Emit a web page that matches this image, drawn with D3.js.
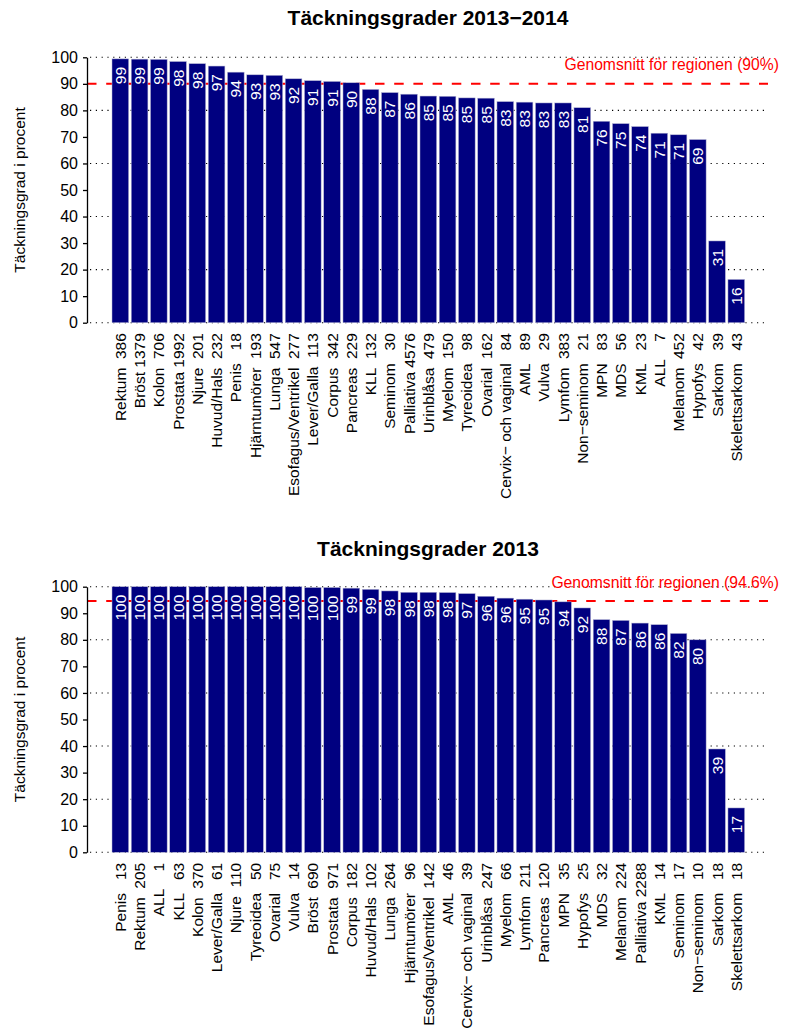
<!DOCTYPE html>
<html>
<head>
<meta charset="utf-8">
<script src="https://cdn.jsdelivr.net/npm/d3@7"></script>
<style>
  html, body { margin: 0; padding: 0; background: #fff; }
  svg { display: block; font-family: "Liberation Sans", Arial, Helvetica, sans-serif; }
</style>
</head>
<body>
<svg id="chart" width="787" height="1032"></svg>
<script>
// ---------- Shared texts ----------
const titles = ["Täckningsgrader 2013−2014", "Täckningsgrader 2013"];
const yAxisLabel = "Täckningsgrad i procent";
const averages = [90, 94.6];
const averageLabels = ["Genomsnitt för regionen (90%)", "Genomsnitt för regionen (94.6%)"];
const yTicks = [0, 10, 20, 30, 40, 50, 60, 70, 80, 90, 100];
const gridValues = [0, 20, 40, 60, 80, 100];

// ---------- Data: chart 1 (2013–2014) ----------
const categories1 = ["Rektum", "Bröst", "Kolon", "Prostata", "Njure", "Huvud/Hals", "Penis",
  "Hjärntumörer", "Lunga", "Esofagus/Ventrikel", "Lever/Galla", "Corpus", "Pancreas", "KLL",
  "Seminom", "Palliativa", "Urinblåsa", "Myelom", "Tyreoidea", "Ovarial", "Cervix− och vaginal",
  "AML", "Vulva", "Lymfom", "Non−seminom", "MPN", "MDS", "KML", "ALL", "Melanom", "Hypofys",
  "Sarkom", "Skelettsarkom"];
const counts1 = [386, 1379, 706, 1992, 201, 232, 18, 193, 547, 277, 113, 342, 229, 132, 30, 4576,
  479, 150, 98, 162, 84, 89, 29, 383, 21, 83, 56, 23, 7, 452, 42, 39, 43];
const values1 = [99.4, 99.3, 99.2, 98.4, 97.6, 96.7, 94.4, 93.4, 93.2, 91.9, 91.2, 90.9, 90.4, 87.9,
  86.7, 86.1, 85.4, 85.3, 84.7, 84.6, 83.3, 83.1, 82.8, 82.8, 81.0, 75.9, 75.0, 73.9, 71.4, 70.8,
  69.0, 30.8, 16.3];

// ---------- Data: chart 2 (2013) ----------
const categories2 = ["Penis", "Rektum", "ALL", "KLL", "Kolon", "Lever/Galla", "Njure", "Tyreoidea",
  "Ovarial", "Vulva", "Bröst", "Prostata", "Corpus", "Huvud/Hals", "Lunga", "Hjärntumörer",
  "Esofagus/Ventrikel", "AML", "Cervix− och vaginal", "Urinblåsa", "Myelom", "Lymfom", "Pancreas",
  "MPN", "Hypofys", "MDS", "Melanom", "Palliativa", "KML", "Seminom", "Non−seminom", "Sarkom",
  "Skelettsarkom"];
const counts2 = [13, 205, 1, 63, 370, 61, 110, 50, 75, 14, 690, 971, 182, 102, 264, 96, 142, 46, 39,
  247, 66, 211, 120, 35, 25, 32, 224, 2288, 14, 17, 10, 18, 18];
const values2 = [100, 100, 100, 100, 100, 100, 100, 100, 100, 100, 99.7, 99.7, 99.45, 99.0, 98.4,
  97.9, 97.9, 97.8, 97.4, 96.4, 95.7, 95.3, 95.0, 94.3, 92.0, 87.6, 87.3, 86.3, 85.7, 82.4, 80.0,
  38.9, 16.7];

const svg = d3.select("#chart");
const NBSP = "\u00A0";

function drawChart(opt) {
  const g = svg.append("g");
  const data = opt.categories.map((c, i) => ({ name: c, n: opt.counts[i], v: opt.values[i] }));

  const y = d3.scaleLinear().domain([0, 100]).range([opt.y0, opt.y100]);
  const x = d3.scaleBand().domain(d3.range(data.length))
    .range([112.3, 744.3]).paddingInner(0.2 / 1.2).paddingOuter(0);

  const axisX = 87, plotRight = 768;

  // dotted grid
  g.selectAll("line.grid").data(gridValues).enter().append("line")
    .attr("class", "grid")
    .attr("x1", axisX + 3).attr("x2", 765)
    .attr("y1", d => y(d)).attr("y2", d => y(d))
    .attr("stroke", "#000").attr("stroke-width", 1.1)
    .attr("stroke-dasharray", "1.2,4.6");

  // average line (behind bars)
  g.append("line")
    .attr("x1", axisX).attr("x2", plotRight)
    .attr("y1", y(opt.avg)).attr("y2", y(opt.avg))
    .attr("stroke", "#ff0000").attr("stroke-width", 2)
    .attr("stroke-dasharray", "9.5,9.7");

  // bars
  g.selectAll("rect.bar").data(data).enter().append("rect")
    .attr("class", "bar")
    .attr("x", (d, i) => x(i) - 0.3)
    .attr("width", x.bandwidth() + 0.6)
    .attr("y", d => y(d.v))
    .attr("height", d => y(0) - y(d.v))
    .attr("fill", "#000080")
    .attr("stroke", "#b4b4d4").attr("stroke-width", 0.5);

  g.append("text")
    .attr("x", 779).attr("y", y(opt.avg) - 13.5)
    .attr("text-anchor", "end")
    .attr("fill", "#ff0000")
    .attr("font-size", "15.7px")
    .text(opt.avgLabel);

  // value labels inside bars
  g.selectAll("text.val").data(data).enter().append("text")
    .attr("class", "val")
    .attr("transform", (d, i) => `translate(${x(i) + x.bandwidth() / 2},${y(d.v) + 8}) rotate(-90)`)
    .attr("text-anchor", "end")
    .attr("dy", "0.36em")
    .attr("fill", "#ffffff")
    .attr("font-size", "15.5px")
    .text(d => Math.round(d.v));

  // category labels
  g.selectAll("text.cat").data(data).enter().append("text")
    .attr("class", "cat")
    .attr("transform", (d, i) => `translate(${x(i) + x.bandwidth() / 2},${y(0) + 10.5}) rotate(-90)`)
    .attr("text-anchor", "end")
    .attr("dy", "0.36em")
    .attr("fill", "#000")
    .attr("font-size", "15.5px")
    .text(d => d.name + NBSP + String(d.n).padStart(4, NBSP).replace(/\u00A0/g, NBSP));

  // y axis
  const axis = d3.axisLeft(y).tickValues(yTicks).tickSize(4).tickSizeOuter(0).tickPadding(5);
  const ag = g.append("g").attr("transform", `translate(${axisX},0)`).call(axis);
  ag.select(".domain").attr("stroke", "#000").attr("stroke-width", 1.3);
  ag.selectAll(".tick line").attr("stroke", "#000").attr("stroke-width", 1.3);
  ag.selectAll(".tick text").attr("font-size", "16px").attr("fill", "#000")
    .attr("font-family", "'Liberation Sans', Arial, sans-serif");

  // y axis title
  g.append("text")
    .attr("transform", `translate(25,${(opt.y0 + opt.y100) / 2}) rotate(-90)`)
    .attr("text-anchor", "middle")
    .attr("font-size", "15.5px")
    .attr("fill", "#000")
    .text(yAxisLabel);

  // title
  g.append("text")
    .attr("x", 428).attr("y", opt.titleY)
    .attr("text-anchor", "middle")
    .attr("font-size", "21px")
    .attr("font-weight", "bold")
    .attr("fill", "#000")
    .text(opt.title);
}

drawChart({ categories: categories1, counts: counts1, values: values1, avg: averages[0],
  avgLabel: averageLabels[0], title: titles[0], y0: 322.7, y100: 57.3, titleY: 24.5 });
drawChart({ categories: categories2, counts: counts2, values: values2, avg: averages[1],
  avgLabel: averageLabels[1], title: titles[1], y0: 852.3, y100: 586.7, titleY: 555.5 });
</script>
</body>
</html>
